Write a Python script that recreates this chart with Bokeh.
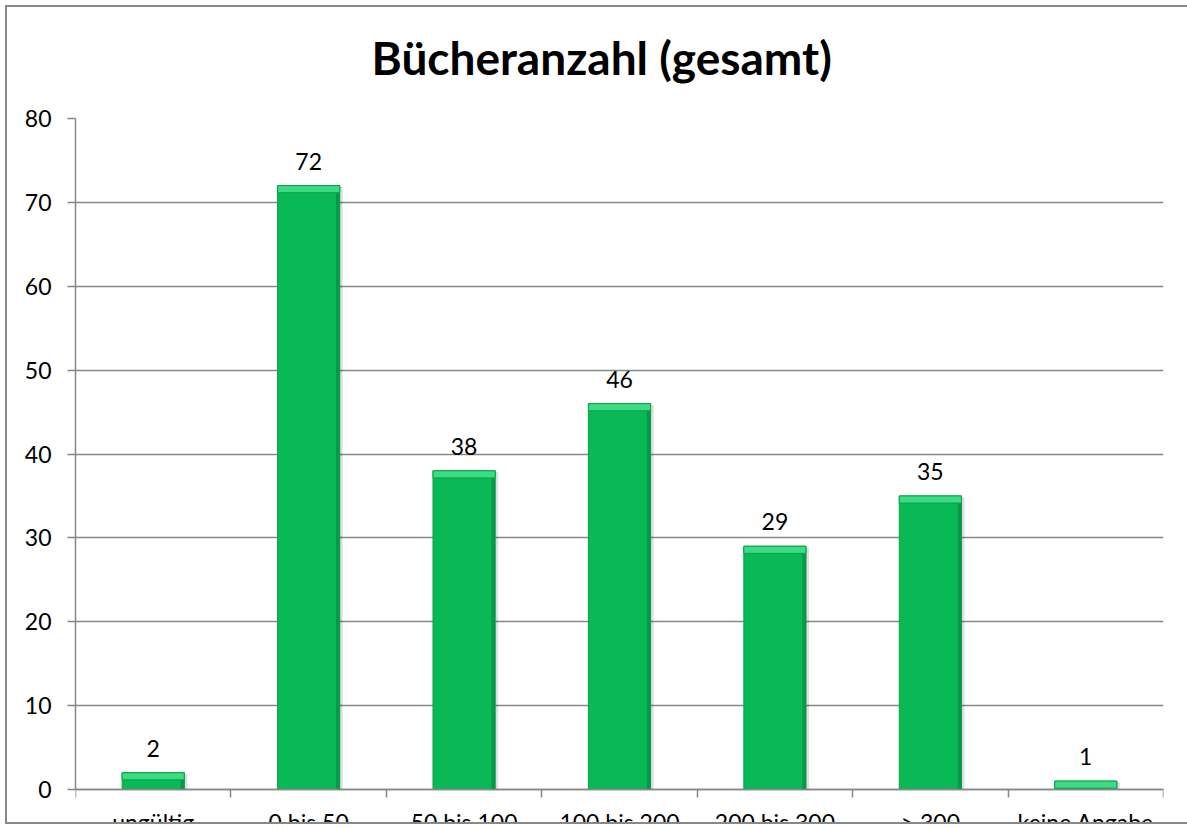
from bokeh.plotting import figure
from bokeh.models import (ColumnDataSource, Range1d, FixedTicker, LabelSet, Title)
from bokeh.core.properties import value
from bokeh.embed import file_html
from bokeh.resources import INLINE

title_text = "Bücheranzahl (gesamt)"
categories = ["ungültig", "0 bis 50", "50 bis 100", "100 bis 200", "200 bis 300", "> 300", "keine Angabe"]
values = [2, 72, 38, 46, 29, 35, 1]
y_ticks = [0, 10, 20, 30, 40, 50, 60, 70, 80]

FONT = "Lato"
GRAY = "#878787"

# layout (pixels): frame from 111 to 815 in the canvas, value 0 at 782
PX_TOP, PX_ZERO, PX_BOTTOM = 111, 782, 815
y_max = y_ticks[-1]
y_min = -(PX_BOTTOM - PX_ZERO) * y_max / (PX_ZERO - PX_TOP)

n = len(categories)
centers = [i + 0.5 for i in range(n)]
bevel = 0.85
src = ColumnDataSource(dict(
    x=centers,
    top=values,
    bevel_bottom=[max(v - bevel, 0) for v in values],
    shadow_top=[max(v - 0.15, 0) for v in values],
    edge_x=[c + 0.188 for c in centers],
    shadow_x=[c + 0.012 for c in centers],
    label=[str(v) for v in values],
    cat=categories,
    zero=[0] * n,
))

p = figure(width=1180, height=815, x_range=Range1d(0, n), y_range=Range1d(y_min, y_max),
           output_backend="svg", toolbar_location=None, title=None,
           min_border_left=68, min_border_top=PX_TOP, min_border_bottom=0, min_border_right=24,
           background_fill_color="white", border_fill_color="white")
p.styles = {"outline": "2px solid #888888", "margin-left": "7px", "margin-top": "7px"}
p.outline_line_color = None

# title (spacer title nearest the frame, then the real title)
p.add_layout(Title(text=" ", text_font_size="15px"), "above")
p.add_layout(Title(text=title_text, text_font=FONT, text_font_style="bold", text_font_size="46px",
                   align="left", offset=296, text_color="black"), "above")

# grid
p.xgrid.visible = False
p.ygrid.grid_line_color = GRAY
p.ygrid.grid_line_width = 1.5
p.ygrid.ticker = FixedTicker(ticks=y_ticks)

# y axis
p.yaxis.ticker = FixedTicker(ticks=y_ticks)
p.yaxis.bounds = (0, y_max)
p.yaxis.axis_line_color = GRAY
p.yaxis.axis_line_width = 1.5
p.yaxis.major_tick_line_color = GRAY
p.yaxis.major_tick_line_width = 1.5
p.yaxis.major_tick_out = 8
p.yaxis.major_tick_in = 0
p.yaxis.minor_tick_line_color = None
p.yaxis.major_label_standoff = 16
p.yaxis.major_label_text_font = FONT
p.yaxis.major_label_text_font_size = "23px"
p.yaxis.major_label_text_color = "black"

# x axis drawn at value 0: boundary ticks only, labels drawn separately
p.xaxis.fixed_location = 0
p.xaxis.ticker = FixedTicker(ticks=[], minor_ticks=list(range(n + 1)))
p.xaxis.axis_line_color = GRAY
p.xaxis.axis_line_width = 1.5
p.xaxis.major_tick_line_color = None
p.xaxis.major_tick_out = 0
p.xaxis.major_tick_in = 0
p.xaxis.minor_tick_line_color = GRAY
p.xaxis.minor_tick_line_width = 1.5
p.xaxis.minor_tick_out = 8
p.xaxis.minor_tick_in = 0
p.xaxis.major_label_standoff = 0
p.xaxis.major_label_text_font_size = "0px"

# bars
p.vbar(x="shadow_x", top="shadow_top", bottom=0, width=0.415, source=src,
       fill_color="black", fill_alpha=0.13, line_color=None)
p.vbar(x="x", top="top", bottom=0, width=0.4, source=src,
       fill_color="#09B955", line_color="#07A24A", line_width=1)
p.vbar(x="edge_x", top="top", bottom=0, width=0.024, source=src,
       fill_color="#06994A", line_color=None)
p.vbar(x="x", top="top", bottom="bevel_bottom", width=0.4, source=src,
       fill_color="#3CDB84", line_color="#07A24A", line_width=1)

# value labels
p.add_layout(LabelSet(x="x", y="top", text="label", source=src, y_offset=16,
                      text_align="center", text_baseline="alphabetic",
                      text_font=value(FONT), text_font_size="23px", text_color="black"))
# category labels (cut by the chart's bottom edge, as in the original)
p.add_layout(LabelSet(x="x", y="zero", text="cat", source=src, y_offset=-41,
                      text_align="center", text_baseline="alphabetic",
                      text_font=value(FONT), text_font_size="23px", text_color="black"))

open("out.html", "w").write(file_html(p, INLINE))
